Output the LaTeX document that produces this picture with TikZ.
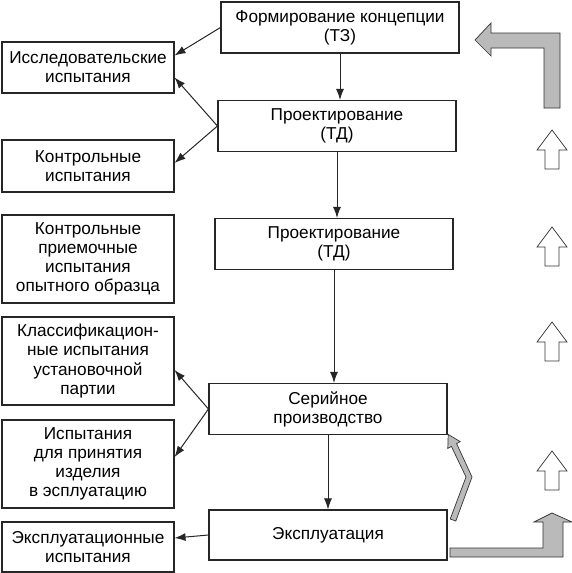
\documentclass[tikz,border=0pt]{standalone}
\usepackage{fontspec}
\setmainfont{Liberation Sans}
\usetikzlibrary{arrows.meta, calc}

\begin{document}
\begin{tikzpicture}[
    x=1pt, y=-1pt,
    >={Latex[length=11pt, width=8pt]},
    font=\fontsize{17.2}{19.2}\selectfont,
    % Estilos de cajas
    stagebox/.style={rectangle, draw=black!85, line width=1.1pt, align=center, minimum width=238pt, minimum height=51pt, inner sep=2pt},
    testbox/.style={rectangle, draw=black!85, line width=1.1pt, align=center, minimum width=172pt, inner sep=2pt},
    flowarrow/.style={->, line width=1pt, black!85},
    bigarrow/.style={draw=black!80, line width=0.7pt, fill=black!27, line join=miter},
    uparrow/.style={draw=black!80, line width=0.7pt, fill=white, line join=miter}
]
\useasboundingbox (0,0) rectangle (572,573);

% -------------------------
% ETAPAS (Centro)
% -------------------------
\node[stagebox] (concepcion) at (340,27.5) {Формирование концепции\\(ТЗ)};
\node[stagebox] (proyecto1) at (337,126) {Проектирование\\(ТД)};
\node[stagebox] (proyecto2) at (334,244) {Проектирование\\(ТД)};
\node[stagebox] (serie) at (328,409) {Серийное\\производство};
\node[stagebox, minimum height=50pt] (explotacion) at (328,535) {Эксплуатация};

% -------------------------
% ENSAYOS (Izquierda)
% -------------------------
\node[testbox, minimum height=51pt] (investig) at (88,67.5) {Исследовательские\\испытания};
\node[testbox, minimum height=52pt] (control) at (88,166) {Контрольные\\испытания};
\node[testbox, minimum height=88pt] (aceptacion) at (88,259) {Контрольные\\приемочные\\испытания\\опытного образца};
\node[testbox, minimum height=88pt] (clasif) at (88,361) {Классификацион-\\ные испытания\\установочной\\партии};
\node[testbox, minimum height=88pt] (admision) at (88,464) {Испытания\\для принятия\\изделия\\в эсплуатацию};
\node[testbox, minimum height=50pt] (operacion) at (88,547) {Эксплуатационные\\испытания};

% Conexiones entre etapas
\draw[flowarrow] (concepcion) -- (concepcion |- proyecto1.north);
\draw[flowarrow] (proyecto1) -- (proyecto1 |- proyecto2.north);
\draw[flowarrow] (proyecto2) -- (proyecto2 |- serie.north);
\draw[flowarrow] (serie) -- (serie |- explotacion.north);

% Conexiones hacia los ensayos
\draw[flowarrow] (concepcion.west) -- ([yshift=12pt]investig.east);
\draw[flowarrow] (proyecto1.west) -- ([yshift=-10pt]investig.east);
\draw[flowarrow] (proyecto1.west) -- ([yshift=3pt]control.east);
\draw[flowarrow] (serie.west) -- ([yshift=-9pt]clasif.east);
\draw[flowarrow] (serie.west) -- ([yshift=7pt]admision.east);
\draw[flowarrow] (explotacion.west) -- ([yshift=9pt]operacion.east);

% -------------------------
% RETROALIMENTACION (Derecha)
% -------------------------
% Flecha gris superior
\draw[bigarrow] (560,108) -- (560,33) -- (491,33) -- (491,23) -- (475,40)
    -- (491,56) -- (491,48) -- (544,48) -- (544,108) -- cycle;

% Flechas blancas hacia arriba
\foreach \ty in {130,227,322,451}
    \draw[uparrow] (552,\ty) -- (567,\ty+20) -- (559,\ty+20) -- (559,\ty+39)
        -- (545,\ty+39) -- (545,\ty+20) -- (537,\ty+20) -- cycle;

% Flecha gris inferior
\draw[bigarrow] (450,548) -- (543,548) -- (543,522) -- (534,522) -- (552,513)
    -- (572,522) -- (563,522) -- (563,557) -- (450,557) -- cycle;

% Flecha gris de explotacion a serie
\draw[bigarrow] (450.2,519) -- (466,477) -- (451.4,446.4) -- (447.8,448.4)
    -- (448.2,434.4) -- (460.2,441.6) -- (456.6,443.6) -- (472,477)
    -- (455.8,521) -- cycle;

\end{tikzpicture}
\end{document}
